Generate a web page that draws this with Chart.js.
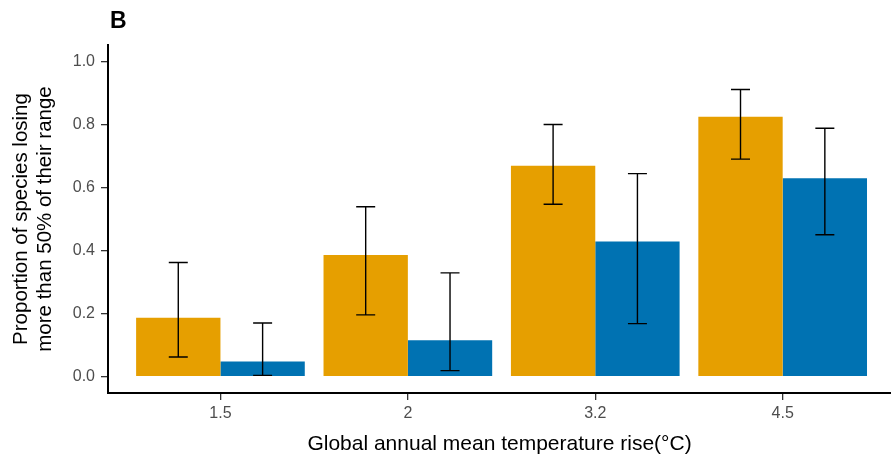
<!DOCTYPE html>
<html>
<head>
<meta charset="utf-8">
<script src="https://cdn.jsdelivr.net/npm/chart.js@4"></script>
<style>
  html, body { margin: 0; padding: 0; background: #fff; }
  #wrap { width: 891px; height: 466px; position: relative; }
</style>
</head>
<body>
<div id="wrap"><canvas id="myChart"></canvas></div>
<script>
// temperature scenarios (x axis categories)
var categories = ['1.5', '2', '3.2', '4.5'];

// orange series
var orangeValues = [0.187, 0.386, 0.669, 0.824];
var orangeLow = [0.062, 0.196, 0.547, 0.690];
var orangeHigh = [0.362, 0.539, 0.800, 0.911];

// blue series
var blueValues = [0.048, 0.115, 0.429, 0.629];
var blueLow = [0.004, 0.019, 0.168, 0.450];
var blueHigh = [0.170, 0.329, 0.644, 0.788];

var yTicks = [0, 0.2, 0.4, 0.6, 0.8, 1.0];

var fontFamily = '"Liberation Sans", Arial, sans-serif';

function points(vals) {
    return vals.map(function (v, i) { return { x: i, y: v }; });
}

// draws the error bars over each bar
var errorBars = {
    id: 'errorBars',
    afterDatasetsDraw: function (chart) {
        var ctx = chart.ctx;
        var y = chart.scales.y;
        ctx.save();
        ctx.strokeStyle = '#000';
        ctx.lineWidth = 1.4;
        chart.data.datasets.forEach(function (ds, di) {
            var meta = chart.getDatasetMeta(di);
            meta.data.forEach(function (bar, i) {
                var x = bar.x;
                var lo = y.getPixelForValue(ds.errLow[i]);
                var hi = y.getPixelForValue(ds.errHigh[i]);
                ctx.beginPath();
                ctx.moveTo(x, lo); ctx.lineTo(x, hi);
                ctx.moveTo(x - 9.5, lo); ctx.lineTo(x + 9.5, lo);
                ctx.moveTo(x - 9.5, hi); ctx.lineTo(x + 9.5, hi);
                ctx.stroke();
            });
        });
        ctx.restore();
    }
};

// panel letter
var panelLabel = {
    id: 'panelLabel',
    afterDraw: function (chart) {
        var ctx = chart.ctx;
        ctx.save();
        ctx.font = 'bold 23px ' + fontFamily;
        ctx.fillStyle = '#000';
        ctx.textBaseline = 'alphabetic';
        ctx.fillText('B', 110, 28);
        ctx.restore();
    }
};

var ctx = document.getElementById('myChart').getContext('2d');
var myChart = new Chart(ctx, {
    type: 'bar',
    data: {
        datasets: [{
            label: 'orange',
            data: points(orangeValues),
            errLow: orangeLow,
            errHigh: orangeHigh,
            backgroundColor: '#E69F00'
        }, {
            label: 'blue',
            data: points(blueValues),
            errLow: blueLow,
            errHigh: blueHigh,
            backgroundColor: '#0072B2'
        }]
    },
    options: {
        responsive: true,
        maintainAspectRatio: false,
        animation: false,
        layout: { padding: { top: 45, right: 0, left: 0, bottom: 0 } },
        datasets: {
            bar: { categoryPercentage: 0.9, barPercentage: 1.0 }
        },
        plugins: {
            legend: { display: false },
            tooltip: { enabled: false }
        },
        scales: {
            x: {
                type: 'linear',
                offset: false,
                min: -0.6,
                max: 3.578,
                afterBuildTicks: function (axis) {
                    axis.ticks = categories.map(function (c, i) { return { value: i }; });
                },
                afterFit: function (axis) { axis.height = 73; },
                ticks: {
                    callback: function (v) { return categories[v]; },
                    color: '#4d4d4d',
                    font: { family: fontFamily, size: 16 },
                    padding: 4,
                    maxRotation: 0
                },
                grid: { offset: false, drawOnChartArea: false, drawTicks: true, tickLength: 7, color: '#333', lineWidth: 1.3 },
                border: { display: true, color: '#000', width: 2 },
                title: {
                    display: true,
                    text: 'Global annual mean temperature rise(°C)',
                    color: '#000',
                    font: { family: fontFamily, size: 21 },
                    padding: { top: 4, bottom: 9 }
                }
            },
            y: {
                min: -0.052,
                max: 1.052,
                afterBuildTicks: function (axis) {
                    axis.ticks = yTicks.map(function (v) { return { value: v }; });
                },
                afterFit: function (axis) { axis.width = 108; },
                ticks: {
                    callback: function (v) { return v.toFixed(1); },
                    color: '#4d4d4d',
                    font: { family: fontFamily, size: 16 },
                    padding: 6
                },
                grid: { drawOnChartArea: false, drawTicks: true, tickLength: 7, color: '#333', lineWidth: 1.3 },
                border: { display: true, color: '#000', width: 2 },
                title: {
                    display: true,
                    text: ['Proportion of species losing', 'more than 50% of their range'],
                    color: '#000',
                    font: { family: fontFamily, size: 20.5, lineHeight: 1.15 },
                    padding: { top: 10, bottom: 4 }
                }
            }
        }
    },
    plugins: [errorBars, panelLabel]
});
</script>
</body>
</html>
